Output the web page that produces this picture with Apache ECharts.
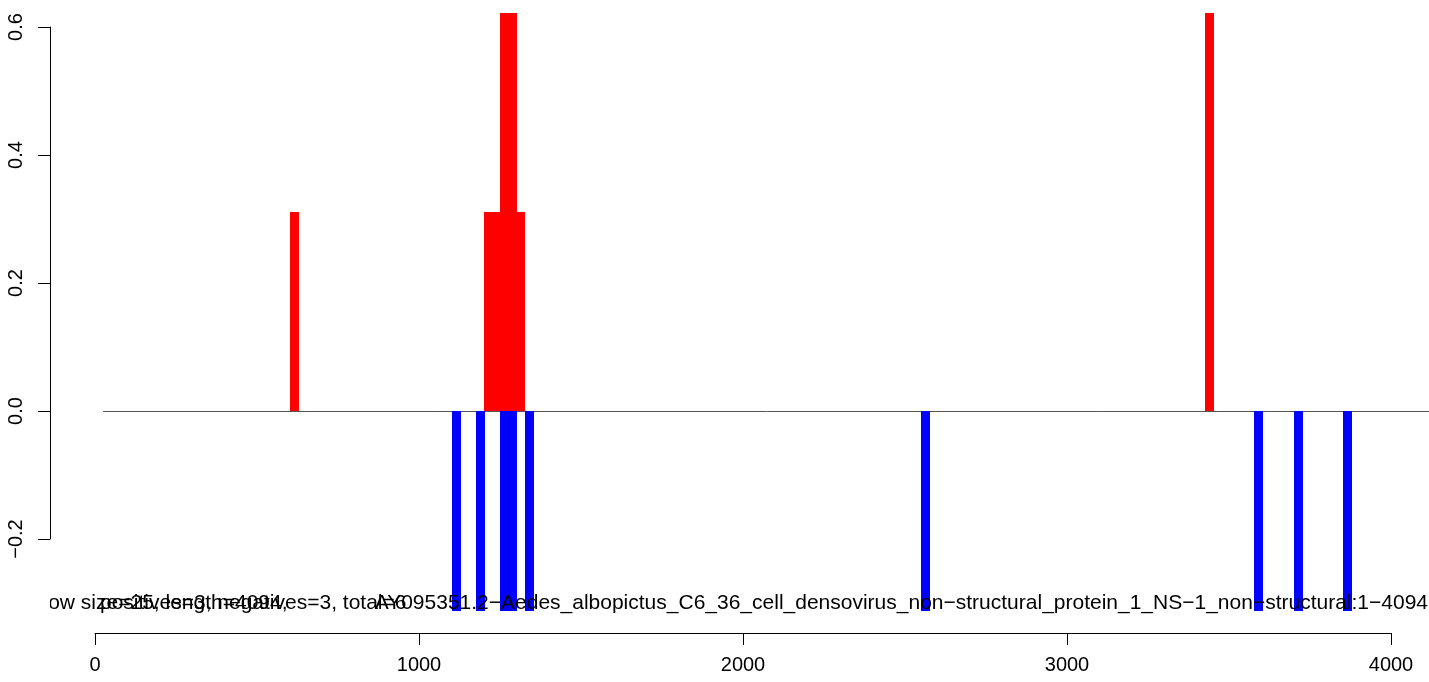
<!DOCTYPE html>
<html>
<head>
<meta charset="utf-8">
<script src="https://cdn.jsdelivr.net/npm/echarts@6/dist/echarts.min.js"></script>
<style>
html,body{margin:0;padding:0;background:#fff;}
#chart{width:1429px;height:682px;}
</style>
</head>
<body>
<div id="chart"></div>
<script>
// ---- data ----
const redPos = [616, 1215, 1239, 1264, 1289, 1313, 3440];
const redVal = [0.311, 0.311, 0.311, 0.622, 0.622, 0.311, 0.622];
const bluePos = [1116, 1190, 1264, 1289, 1341, 2563, 3591, 3715, 3866];
const blueVal = [-0.3125, -0.3125, -0.3125, -0.3125, -0.3125, -0.3125, -0.3125, -0.3125, -0.3125];
const xTicks = [0, 1000, 2000, 3000, 4000];
const yTicks = [-0.2, 0.0, 0.2, 0.4, 0.6];
const baseline = [[25, 0, 4130]];
const captionA = "window size=25, length=4094,";
const captionB = "positives=3, negatives=3, total=6";
const captionC = "AY095351.2\u2212Aedes_albopictus_C6_36_cell_densovirus_non\u2212structural_protein_1_NS\u22121_non\u2212structural:1\u22124094";

const BAR_W = 28; // bar width in data units
const FONT = '"Liberation Sans", Arial, Helvetica, sans-serif';

function barRenderer(color) {
  return function (params, api) {
    const x = api.value(0), v = api.value(1);
    const a = api.coord([x - BAR_W / 2, v]);
    const b = api.coord([x + BAR_W / 2, 0]);
    const x0 = Math.round(a[0]), x1 = Math.round(b[0]);
    const y0 = Math.min(a[1], b[1]), y1 = Math.max(a[1], b[1]);
    return { type: 'rect', shape: { x: x0, y: Math.round(y0), width: x1 - x0, height: Math.round(y1) - Math.round(y0) }, style: { fill: color } };
  };
}

function lineRenderer(params, api) {
  const a = api.coord([api.value(0), api.value(1)]);
  const b = api.coord([api.value(2), api.value(1)]);
  const y = Math.round(a[1]) + 0.5;
  return { type: 'line', shape: { x1: a[0], y1: y, x2: b[0], y2: y }, style: { stroke: '#555', lineWidth: 1 } };
}

const chart = echarts.init(document.getElementById('chart'), null, { renderer: 'canvas' });
chart.setOption({
  animation: false,
  backgroundColor: '#ffffff',
  grid: [
    { left: 95, right: 38, top: 13, bottom: 49 },
    { left: 50, width: 1300, top: 27, height: 512 }
  ],
  xAxis: [
    {
      gridIndex: 0, type: 'value', min: xTicks[0], max: xTicks[xTicks.length - 1], interval: 1000,
      axisLine: { show: true, onZero: false, lineStyle: { color: '#000', width: 1 } },
      axisTick: { show: true, length: 12, lineStyle: { color: '#000' } },
      axisLabel: { color: '#000', fontSize: 20, fontFamily: FONT, margin: 22, formatter: v => String(v) },
      splitLine: { show: false }
    },
    { gridIndex: 1, type: 'value', min: 0, max: 1, show: false }
  ],
  yAxis: [
    { gridIndex: 0, type: 'value', min: -0.346875, max: 0.621875, show: false },
    {
      gridIndex: 1, type: 'value', min: yTicks[0], max: yTicks[yTicks.length - 1], interval: 0.2,
      axisLine: { show: true, onZero: false, lineStyle: { color: '#000', width: 1 } },
      axisTick: { show: true, length: 12, lineStyle: { color: '#000' } },
      axisLabel: {
        color: '#000', fontSize: 20, fontFamily: FONT, rotate: 90, margin: 24,
        formatter: v => v.toFixed(1).replace('-', '\u2212')
      },
      splitLine: { show: false }
    }
  ],
  series: [
    {
      type: 'custom', xAxisIndex: 0, yAxisIndex: 0, clip: false, silent: true, z: 1,
      data: baseline, renderItem: lineRenderer
    },
    {
      type: 'custom', xAxisIndex: 0, yAxisIndex: 0, clip: false, z: 2,
      data: bluePos.map((p, i) => [p, blueVal[i]]), renderItem: barRenderer('#0000FF')
    },
    {
      type: 'custom', xAxisIndex: 0, yAxisIndex: 0, clip: false, z: 2,
      data: redPos.map((p, i) => [p, redVal[i]]), renderItem: barRenderer('#FF0000')
    }
  ],
  graphic: [
    { type: 'text', x: 5, y: 603, z: 10, style: { text: captionA, font: '21px ' + FONT, fill: '#000', textAlign: 'left', textVerticalAlign: 'middle' } },
    { type: 'text', x: 100, y: 603, z: 10, style: { text: captionB, font: '21px ' + FONT, fill: '#000', textAlign: 'left', textVerticalAlign: 'middle' } },
    { type: 'text', x: 1428, y: 603, z: 10, style: { text: captionC, font: '21px ' + FONT, fill: '#000', textAlign: 'right', textVerticalAlign: 'middle' } },
    { type: 'rect', shape: { x: 0, y: 588, width: 50, height: 30 }, z: 11, style: { fill: '#fff' } }
  ]
});
</script>
</body>
</html>
